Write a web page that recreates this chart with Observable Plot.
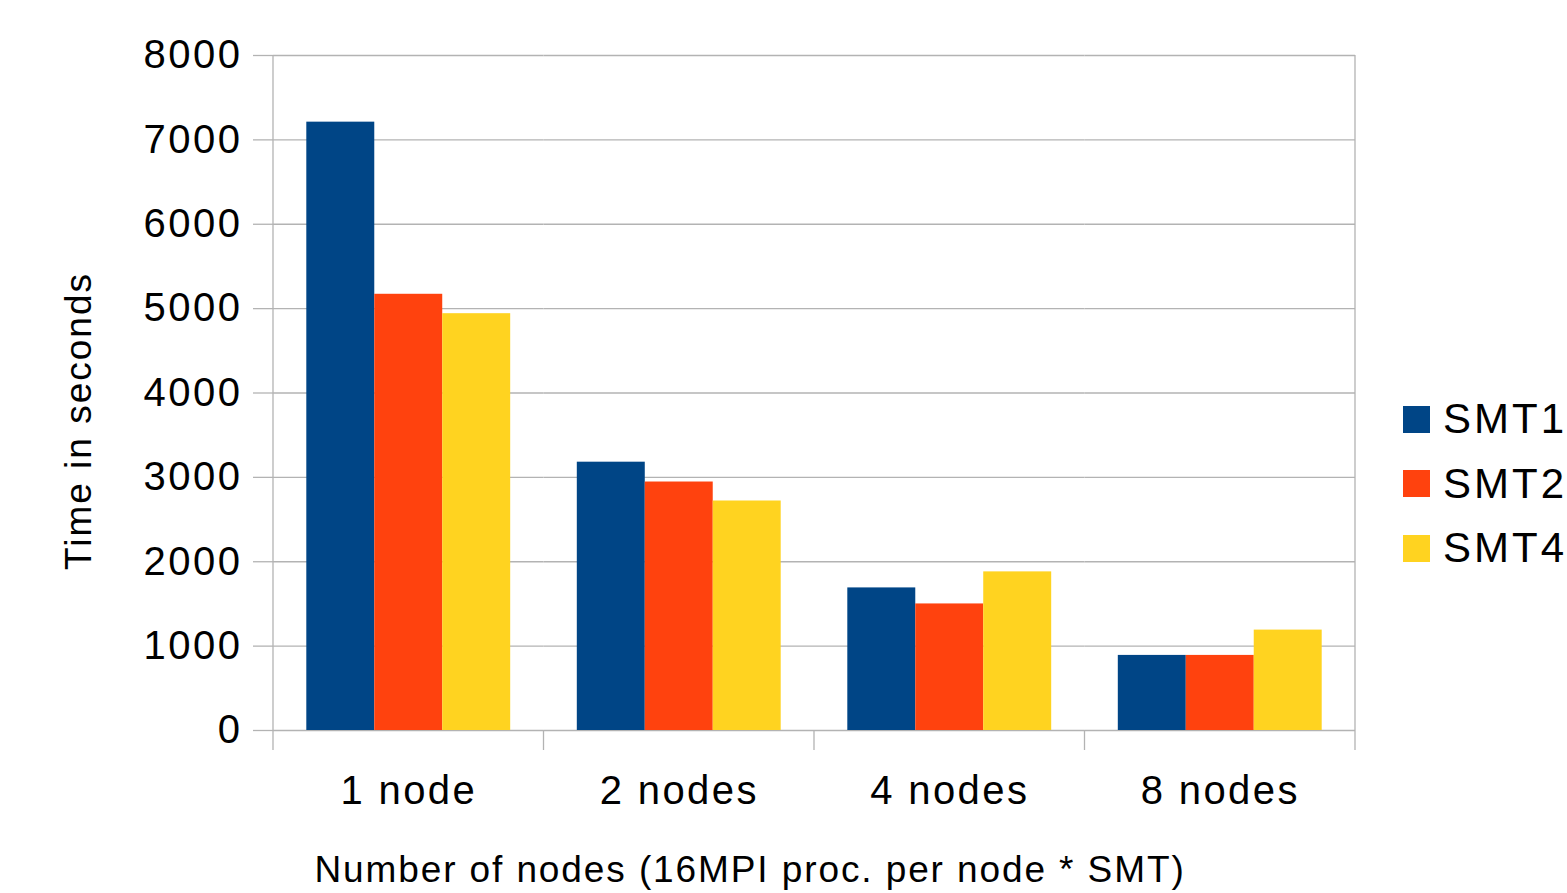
<!DOCTYPE html>
<html>
<head>
<meta charset="utf-8">
<script src="https://cdn.jsdelivr.net/npm/d3@7"></script>
<script src="https://cdn.jsdelivr.net/npm/@observablehq/plot@0.6"></script>
<style>
  html, body { margin: 0; padding: 0; background: #fff; }
  #wrap { position: relative; width: 1567px; height: 893px; font-family: "Liberation Sans", Arial, sans-serif; color: #000; overflow: hidden; }
  #wrap svg.plot { position: absolute; left: 0; top: 0; }
  .ytick text { letter-spacing: 2.5px; }
  .fxtick text { letter-spacing: 2.4px; }
  #ytitle { position: absolute; left: 78px; top: 421px; transform: translate(-50%, -50%) rotate(-90deg); font-size: 37px; letter-spacing: 2px; white-space: nowrap; line-height: 1; }
  #xtitle { position: absolute; left: 750px; top: 851px; transform: translateX(-50%); font-size: 37px; letter-spacing: 1.9px; white-space: nowrap; line-height: 1; }
  #legend { position: absolute; left: 1403px; top: 387px; display: flex; flex-direction: column; }
  #legend .item { display: flex; align-items: center; height: 64.5px; }
  #legend .sw { width: 27px; height: 27px; margin-right: 13px; }
  #legend .lab { font-size: 42px; letter-spacing: 3px; line-height: 1; }
</style>
</head>
<body>
<div id="wrap"></div>
<script>
// ---- data ----
const categories = ["1 node", "2 nodes", "4 nodes", "8 nodes"];
const series = ["SMT1", "SMT2", "SMT4"];
const smt1 = [7210, 3180, 1690, 890];
const smt2 = [5170, 2945, 1500, 890];
const smt4 = [4940, 2720, 1880, 1190];
const colors = ["#004586", "#ff420e", "#ffd320"];
const yTicks = [0, 1000, 2000, 3000, 4000, 5000, 6000, 7000, 8000];
const xTitle = "Number of nodes (16MPI proc. per node * SMT)";
const yTitle = "Time in seconds";

const valuesBySeries = [smt1, smt2, smt4];
const table = [];
categories.forEach((c, ci) => series.forEach((s, si) => table.push({cat: c, series: s, value: valuesBySeries[si][ci]})));

const grid = "#b3b3b3";

const plot = Plot.plot({
  width: 1567,
  height: 893,
  marginLeft: 273,
  marginRight: 212,
  marginTop: 55,
  marginBottom: 163,
  style: {fontFamily: "Liberation Sans, Arial, sans-serif", fontSize: "40px", color: "#000", background: "transparent"},
  fx: {domain: categories, padding: 0, round: false},
  x: {domain: series, paddingInner: 0, paddingOuter: 0.49, round: false, axis: null},
  y: {domain: [0, 8000]},
  color: {domain: series, range: colors},
  marks: [
    Plot.gridY(yTicks, {stroke: grid, strokeOpacity: 1, strokeWidth: 1.3}),
    Plot.barY(table, {fx: "cat", x: "series", y: "value", fill: "series"}),
    Plot.axisY(yTicks, {tickSize: 20, tickPadding: 11, stroke: grid, strokeOpacity: 1, strokeWidth: 1.3, fontSize: 40, label: null, className: "ytick", tickFormat: d => String(d)}),
    Plot.axisFx({anchor: "bottom", tickSize: 0, tickPadding: 45, fontSize: 40, label: null, className: "fxtick"})
  ]
});
plot.classList.add("plot");
document.getElementById("wrap").appendChild(plot);

// category boundary lines using the library's scales
const fx = plot.scale("fx"), y = plot.scale("y");
const edges = categories.map(c => fx.apply(c)).concat([fx.apply(categories[categories.length - 1]) + fx.bandwidth]);
const y0 = y.apply(0), yTop = y.apply(8000);
const svg = d3.select(plot);
edges.forEach((x, i) => {
  const full = i === 0 || i === edges.length - 1;
  svg.append("line")
    .attr("x1", x).attr("x2", x)
    .attr("y1", full ? yTop : y0).attr("y2", y0 + 20)
    .attr("stroke", grid).attr("stroke-width", 1.3);
});

// titles
const wrap = document.getElementById("wrap");
const yt = document.createElement("div"); yt.id = "ytitle"; yt.textContent = yTitle; wrap.appendChild(yt);
const xt = document.createElement("div"); xt.id = "xtitle"; xt.textContent = xTitle; wrap.appendChild(xt);

// legend
const color = plot.scale("color");
const lg = document.createElement("div"); lg.id = "legend";
series.forEach(s => {
  const it = document.createElement("div"); it.className = "item";
  const sw = document.createElement("div"); sw.className = "sw"; sw.style.background = color.apply(s);
  const lab = document.createElement("div"); lab.className = "lab"; lab.textContent = s;
  it.appendChild(sw); it.appendChild(lab); lg.appendChild(it);
});
wrap.appendChild(lg);
</script>
</body>
</html>
